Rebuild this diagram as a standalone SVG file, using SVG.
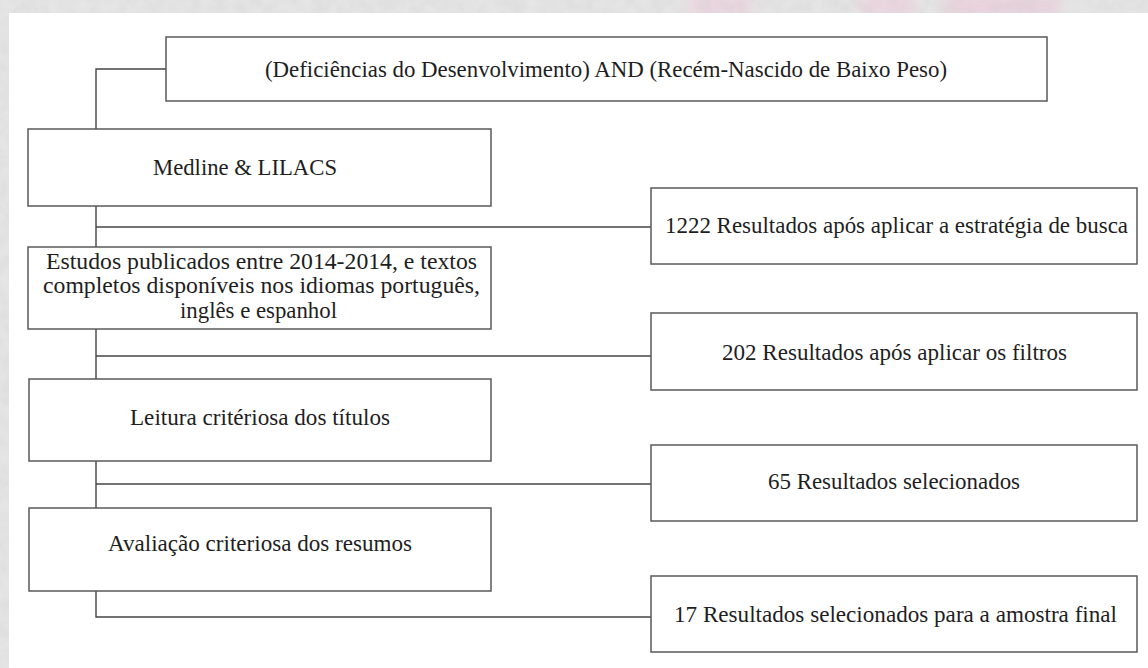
<svg xmlns="http://www.w3.org/2000/svg" width="1148" height="668" viewBox="0 0 1148 668">
  <style>
    .box { fill: #ffffff; stroke: #5a5a5a; stroke-width: 1.5; }
    .conn { fill: none; stroke: #444444; stroke-width: 1.4; }
    .lbl { font-family: "Liberation Serif", "Times New Roman", serif; font-size: 24px; fill: #1e1e1e; }
  </style>
  <defs>
    <filter id="tex" x="0" y="0" width="100%" height="100%">
      <feTurbulence type="fractalNoise" baseFrequency="0.08" numOctaves="3" seed="4" result="n"/>
      <feColorMatrix in="n" type="matrix" values="0 0 0 0 0.55  0 0 0 0 0.55  0 0 0 0 0.55  0 0 0 0.45 0" result="g"/>
      <feComposite in="g" in2="SourceGraphic" operator="in"/>
    </filter>
    <filter id="blur"><feGaussianBlur stdDeviation="6"/></filter>
  </defs>

  <g id="background">
    <rect x="0" y="0" width="1148" height="668" fill="#e9e8e8"/>
    <g filter="url(#blur)" opacity="0.8">
      <rect x="690" y="-5" width="60" height="22" fill="#f1d3e0"/>
      <rect x="860" y="-5" width="55" height="22" fill="#f1d3e0"/>
      <rect x="945" y="-5" width="115" height="22" fill="#efcfdd"/>
    </g>
    <rect x="0" y="0" width="1148" height="668" fill="#ffffff" filter="url(#tex)" opacity="0.7"/>
    <rect x="9" y="13" width="1139" height="655" fill="#ffffff"/>
  </g>

  <g id="connectors">
    <polyline class="conn" points="166,69 96,69 96,617 651,617"/>
    <line class="conn" x1="96" y1="227" x2="651" y2="227"/>
    <line class="conn" x1="96" y1="356" x2="651" y2="356"/>
    <line class="conn" x1="96" y1="484" x2="651" y2="484"/>
  </g>

  <g id="node-query">
    <rect class="box" x="166" y="37" width="881" height="64"/>
    <text class="lbl" x="265" y="77" textLength="682" lengthAdjust="spacingAndGlyphs">(Deficiências do Desenvolvimento) AND (Recém-Nascido de Baixo Peso)</text>
  </g>

  <g id="node-bases">
    <rect class="box" x="28" y="129" width="463" height="77"/>
    <text class="lbl" x="153" y="175" textLength="184" lengthAdjust="spacingAndGlyphs">Medline &amp; LILACS</text>
  </g>

  <g id="node-filtros">
    <rect class="box" x="28" y="247" width="463" height="82"/>
    <text class="lbl" x="46" y="269" textLength="431" lengthAdjust="spacingAndGlyphs">Estudos publicados entre 2014-2014, e textos</text>
    <text class="lbl" x="43" y="293" textLength="437" lengthAdjust="spacingAndGlyphs">completos disponíveis nos idiomas português,</text>
    <text class="lbl" x="180" y="318" textLength="157" lengthAdjust="spacingAndGlyphs">inglês e espanhol</text>
  </g>

  <g id="node-titulos">
    <rect class="box" x="29" y="379" width="462" height="82"/>
    <text class="lbl" x="130" y="425" textLength="260" lengthAdjust="spacingAndGlyphs">Leitura critériosa dos títulos</text>
  </g>

  <g id="node-resumos">
    <rect class="box" x="29" y="508" width="462" height="83"/>
    <text class="lbl" x="108" y="551" textLength="304" lengthAdjust="spacingAndGlyphs">Avaliação criteriosa dos resumos</text>
  </g>

  <g id="node-r1222">
    <rect class="box" x="651" y="188" width="486" height="76"/>
    <text class="lbl" x="665" y="233" textLength="463" lengthAdjust="spacingAndGlyphs">1222 Resultados após aplicar a estratégia de busca</text>
  </g>

  <g id="node-r202">
    <rect class="box" x="651" y="313" width="486" height="77"/>
    <text class="lbl" x="722" y="360" textLength="345" lengthAdjust="spacingAndGlyphs">202 Resultados após aplicar os filtros</text>
  </g>

  <g id="node-r65">
    <rect class="box" x="651" y="445" width="486" height="76"/>
    <text class="lbl" x="768" y="489" textLength="252" lengthAdjust="spacingAndGlyphs">65 Resultados selecionados</text>
  </g>

  <g id="node-r17">
    <rect class="box" x="651" y="576" width="486" height="76"/>
    <text class="lbl" x="674" y="622" textLength="443" lengthAdjust="spacingAndGlyphs">17 Resultados selecionados para a amostra final</text>
  </g>
</svg>
